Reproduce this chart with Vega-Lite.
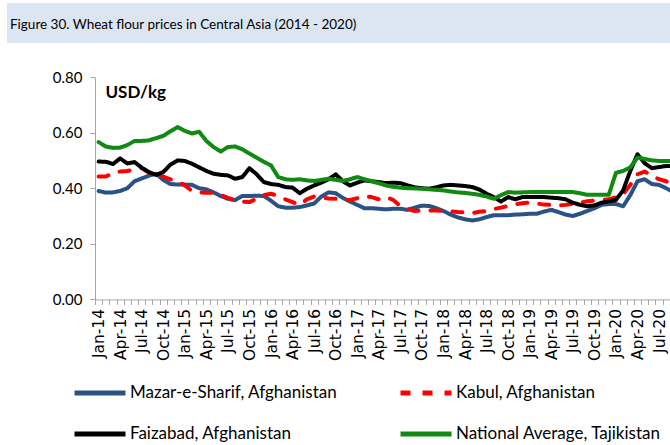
{
  "$schema": "https://vega.github.io/schema/vega-lite/v6.json",
  "background": "white",
  "padding": {"left": 7, "top": 3, "right": 0, "bottom": 0},
  "config": {"font": "Lato", "view": {"stroke": null}},
  "spacing": 27,
  "vconcat": [
    {
      "width": 575,
      "height": 40,
      "title": {"text": "Figure 30. Wheat flour prices in Central Asia (2014 - 2020)", "orient": "bottom", "anchor": "start", "frame": "bounds", "offset": -14, "baseline": "alphabetic", "dx": 3, "font": "Lato", "fontSize": 13.5, "fontWeight": "normal", "color": "#000000"},
      "data": {"values": [{}]},
      "mark": {"type": "rect", "color": "#dce6f2", "clip": false},
      "encoding": {
        "x": {"datum": 0, "type": "quantitative", "scale": {"domain": [0.13273, 1], "nice": false, "zero": false}, "axis": null},
        "x2": {"datum": 1}
      }
    },
    {
      "width": 582,
      "height": 222.4,
      "data": {"values": [
        {"month":"Jan-14","M":0.390,"K":0.442,"F":0.496,"T":0.566},
        {"month":"Feb-14","M":0.384,"K":0.442,"F":0.495,"T":0.550},
        {"month":"Mar-14","M":0.385,"K":0.455,"F":0.487,"T":0.545},
        {"month":"Apr-14","M":0.390,"K":0.460,"F":0.507,"T":0.546},
        {"month":"May-14","M":0.400,"K":0.462,"F":0.489,"T":0.555},
        {"month":"Jun-14","M":0.425,"K":0.468,"F":0.494,"T":0.570},
        {"month":"Jul-14","M":0.435,"K":0.472,"F":0.474,"T":0.570},
        {"month":"Aug-14","M":0.445,"K":0.455,"F":0.458,"T":0.572},
        {"month":"Sep-14","M":0.452,"K":0.448,"F":0.448,"T":0.580},
        {"month":"Oct-14","M":0.430,"K":0.442,"F":0.458,"T":0.588},
        {"month":"Nov-14","M":0.415,"K":0.432,"F":0.485,"T":0.605},
        {"month":"Dec-14","M":0.413,"K":0.425,"F":0.500,"T":0.620},
        {"month":"Jan-15","M":0.413,"K":0.410,"F":0.498,"T":0.606},
        {"month":"Feb-15","M":0.412,"K":0.390,"F":0.488,"T":0.597},
        {"month":"Mar-15","M":0.400,"K":0.385,"F":0.475,"T":0.603},
        {"month":"Apr-15","M":0.396,"K":0.384,"F":0.462,"T":0.570},
        {"month":"May-15","M":0.385,"K":0.384,"F":0.452,"T":0.548},
        {"month":"Jun-15","M":0.372,"K":0.376,"F":0.448,"T":0.532},
        {"month":"Jul-15","M":0.362,"K":0.365,"F":0.446,"T":0.548},
        {"month":"Aug-15","M":0.357,"K":0.357,"F":0.434,"T":0.550},
        {"month":"Sep-15","M":0.372,"K":0.352,"F":0.440,"T":0.540},
        {"month":"Oct-15","M":0.372,"K":0.350,"F":0.472,"T":0.525},
        {"month":"Nov-15","M":0.373,"K":0.362,"F":0.450,"T":0.510},
        {"month":"Dec-15","M":0.372,"K":0.375,"F":0.422,"T":0.495},
        {"month":"Jan-16","M":0.355,"K":0.380,"F":0.415,"T":0.482},
        {"month":"Feb-16","M":0.335,"K":0.372,"F":0.412,"T":0.440},
        {"month":"Mar-16","M":0.330,"K":0.360,"F":0.404,"T":0.432},
        {"month":"Apr-16","M":0.330,"K":0.350,"F":0.402,"T":0.430},
        {"month":"May-16","M":0.332,"K":0.340,"F":0.382,"T":0.432},
        {"month":"Jun-16","M":0.338,"K":0.360,"F":0.398,"T":0.428},
        {"month":"Jul-16","M":0.345,"K":0.370,"F":0.410,"T":0.426},
        {"month":"Aug-16","M":0.370,"K":0.368,"F":0.420,"T":0.430},
        {"month":"Sep-16","M":0.385,"K":0.363,"F":0.432,"T":0.434},
        {"month":"Oct-16","M":0.382,"K":0.362,"F":0.450,"T":0.430},
        {"month":"Nov-16","M":0.365,"K":0.358,"F":0.425,"T":0.426},
        {"month":"Dec-16","M":0.352,"K":0.358,"F":0.410,"T":0.432},
        {"month":"Jan-17","M":0.340,"K":0.364,"F":0.420,"T":0.440},
        {"month":"Feb-17","M":0.328,"K":0.372,"F":0.428,"T":0.432},
        {"month":"Mar-17","M":0.328,"K":0.368,"F":0.425,"T":0.425},
        {"month":"Apr-17","M":0.326,"K":0.360,"F":0.422,"T":0.418},
        {"month":"May-17","M":0.324,"K":0.368,"F":0.418,"T":0.410},
        {"month":"Jun-17","M":0.326,"K":0.358,"F":0.420,"T":0.405},
        {"month":"Jul-17","M":0.326,"K":0.335,"F":0.418,"T":0.402},
        {"month":"Aug-17","M":0.322,"K":0.325,"F":0.410,"T":0.400},
        {"month":"Sep-17","M":0.330,"K":0.318,"F":0.403,"T":0.399},
        {"month":"Oct-17","M":0.337,"K":0.320,"F":0.400,"T":0.398},
        {"month":"Nov-17","M":0.336,"K":0.320,"F":0.398,"T":0.396},
        {"month":"Dec-17","M":0.328,"K":0.320,"F":0.403,"T":0.394},
        {"month":"Jan-18","M":0.318,"K":0.318,"F":0.410,"T":0.392},
        {"month":"Feb-18","M":0.305,"K":0.317,"F":0.412,"T":0.388},
        {"month":"Mar-18","M":0.295,"K":0.314,"F":0.410,"T":0.385},
        {"month":"Apr-18","M":0.288,"K":0.313,"F":0.408,"T":0.383},
        {"month":"May-18","M":0.284,"K":0.310,"F":0.404,"T":0.380},
        {"month":"Jun-18","M":0.288,"K":0.315,"F":0.395,"T":0.376},
        {"month":"Jul-18","M":0.296,"K":0.318,"F":0.380,"T":0.370},
        {"month":"Aug-18","M":0.303,"K":0.325,"F":0.368,"T":0.362},
        {"month":"Sep-18","M":0.303,"K":0.330,"F":0.352,"T":0.375},
        {"month":"Oct-18","M":0.303,"K":0.336,"F":0.368,"T":0.386},
        {"month":"Nov-18","M":0.305,"K":0.342,"F":0.360,"T":0.384},
        {"month":"Dec-18","M":0.306,"K":0.346,"F":0.368,"T":0.385},
        {"month":"Jan-19","M":0.308,"K":0.348,"F":0.368,"T":0.386},
        {"month":"Feb-19","M":0.308,"K":0.345,"F":0.368,"T":0.386},
        {"month":"Mar-19","M":0.316,"K":0.341,"F":0.368,"T":0.386},
        {"month":"Apr-19","M":0.322,"K":0.340,"F":0.366,"T":0.386},
        {"month":"May-19","M":0.314,"K":0.338,"F":0.364,"T":0.386},
        {"month":"Jun-19","M":0.305,"K":0.340,"F":0.360,"T":0.386},
        {"month":"Jul-19","M":0.300,"K":0.344,"F":0.348,"T":0.386},
        {"month":"Aug-19","M":0.308,"K":0.348,"F":0.340,"T":0.382},
        {"month":"Sep-19","M":0.318,"K":0.353,"F":0.335,"T":0.376},
        {"month":"Oct-19","M":0.328,"K":0.355,"F":0.338,"T":0.376},
        {"month":"Nov-19","M":0.340,"K":0.357,"F":0.348,"T":0.376},
        {"month":"Dec-19","M":0.343,"K":0.360,"F":0.352,"T":0.376},
        {"month":"Jan-20","M":0.343,"K":0.368,"F":0.358,"T":0.455},
        {"month":"Feb-20","M":0.335,"K":0.378,"F":0.392,"T":0.462},
        {"month":"Mar-20","M":0.375,"K":0.412,"F":0.462,"T":0.475},
        {"month":"Apr-20","M":0.425,"K":0.450,"F":0.522,"T":0.510},
        {"month":"May-20","M":0.432,"K":0.460,"F":0.490,"T":0.505},
        {"month":"Jun-20","M":0.415,"K":0.445,"F":0.472,"T":0.500},
        {"month":"Jul-20","M":0.412,"K":0.432,"F":0.476,"T":0.498},
        {"month":"Aug-20","M":0.400,"K":0.425,"F":0.480,"T":0.498},
        {"month":"Sep-20","M":0.385,"K":0.410,"F":0.480,"T":0.498}
      ]},
      "transform": [{"fold": ["M", "K", "F", "T"], "as": ["series", "value"]}],
      "mark": {"type": "line", "strokeWidth": 4, "strokeCap": "round", "strokeJoin": "round"},
      "encoding": {
        "x": {
          "field": "month", "type": "ordinal", "sort": null,
          "scale": {"type": "band", "paddingInner": 0, "paddingOuter": 0},
          "bandPosition": 0.5,
          "axis": {
            "title": null, "tickBand": "extent",
            "labelExpr": "indexof(['Jan','Apr','Jul','Oct'], slice(datum.label, 0, 3)) >= 0 ? datum.label : ''",
            "labelAngle": 270, "labelAlign": "right", "labelBaseline": "middle",
            "labelFont": "DejaVu Sans", "labelFontSize": 15.5, "labelColor": "#000000", "labelPadding": 4,
            "labelOverlap": false, "labelBound": false,
            "tickSize": 5, "tickColor": "#a6a6a6", "domainColor": "#a6a6a6", "grid": false
          }
        },
        "y": {
          "field": "value", "type": "quantitative",
          "scale": {"domain": [0, 0.8], "nice": false, "zero": true},
          "axis": {
            "values": [0, 0.2, 0.4, 0.6, 0.8], "format": ".2f", "grid": false,
            "domainColor": "#a6a6a6", "tickColor": "#a6a6a6", "tickSize": 5,
            "labelFont": "Lato", "labelFontSize": 15, "labelColor": "#000000", "labelPadding": 8,
            "title": "USD/kg", "titleFont": "Lato", "titleFontSize": 17, "titleFontWeight": "bold", "titleColor": "#000000",
            "titleAngle": 0, "titleX": 10, "titleY": 20, "titleAlign": "left", "titleBaseline": "alphabetic",
            "minExtent": 87, "maxExtent": 87
          }
        },
        "color": {
          "field": "series", "type": "nominal",
          "scale": {"domain": ["M", "K", "F", "T"], "range": ["#2a5385", "#ff0000", "#000000", "#118a11"]},
          "legend": {
            "orient": "none", "legendX": -23, "legendY": 362, "columns": 2, "direction": "horizontal", "title": null,
            "symbolType": "stroke", "symbolSize": 2601, "symbolStrokeWidth": 5,
            "labelFont": "Lato", "labelFontSize": 17, "labelColor": "#000000", "labelOffset": 2, "labelLimit": 400,
            "rowPadding": 3, "columnPadding": 52, "padding": 0,
            "labelExpr": "datum.label == 'M' ? 'Mazar-e-Sharif, Afghanistan' : datum.label == 'K' ? 'Kabul, Afghanistan' : datum.label == 'F' ? 'Faizabad, Afghanistan' : 'National Average, Tajikistan'"
          }
        },
        "strokeDash": {
          "field": "series", "type": "nominal",
          "scale": {"domain": ["M", "K", "F", "T"], "range": [[1, 0], [10, 12], [1, 0], [1, 0]]},
          "legend": {
            "orient": "none", "legendX": -23, "legendY": 362, "columns": 2, "direction": "horizontal", "title": null,
            "symbolType": "stroke", "symbolSize": 2601, "symbolStrokeWidth": 5,
            "labelFont": "Lato", "labelFontSize": 17, "labelColor": "#000000", "labelOffset": 2, "labelLimit": 400,
            "rowPadding": 3, "columnPadding": 52, "padding": 0,
            "labelExpr": "datum.label == 'M' ? 'Mazar-e-Sharif, Afghanistan' : datum.label == 'K' ? 'Kabul, Afghanistan' : datum.label == 'F' ? 'Faizabad, Afghanistan' : 'National Average, Tajikistan'"
          }
        }
      }
    }
  ]
}
